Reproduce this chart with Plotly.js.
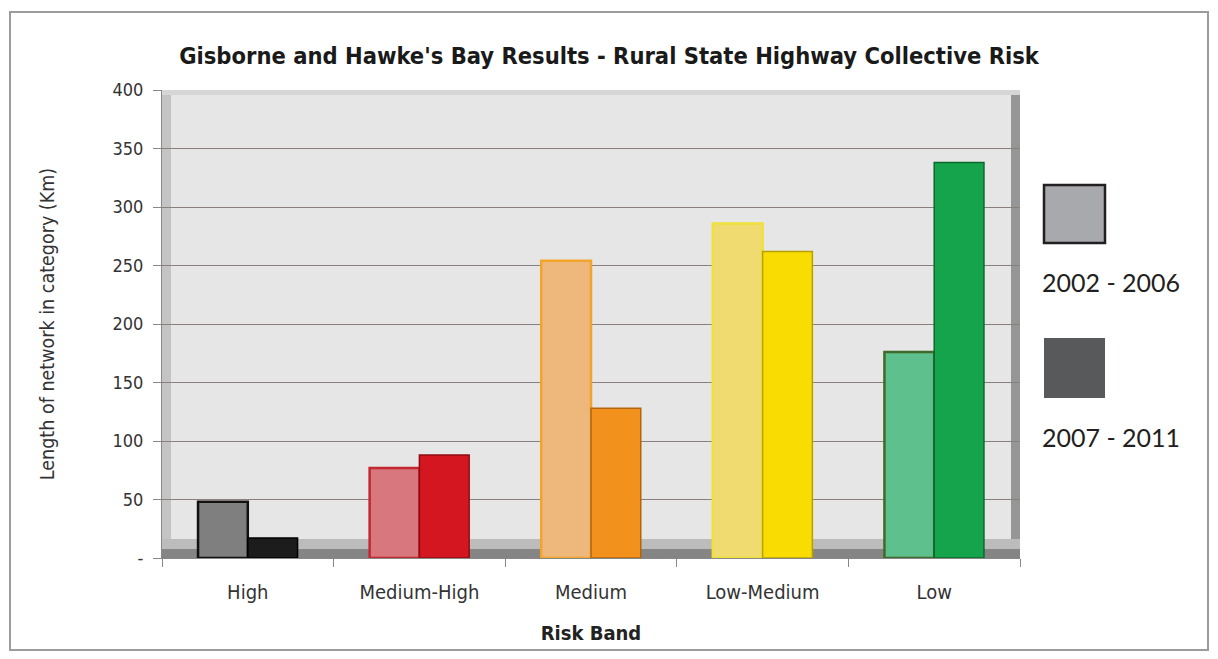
<!DOCTYPE html>
<html><head><meta charset="utf-8">
<script src="https://cdn.plot.ly/plotly-3.0.1.min.js"></script>
<style>body{margin:0;background:#fff}#chart{width:1218px;height:659px}</style>
</head><body><div id="chart"></div>
<script>
const categories = ["High", "Medium-High", "Medium", "Low-Medium", "Low"];
const seriesNames = ["2002 - 2006", "2007 - 2011"];
const values2002 = [48, 77, 254, 286, 176];
const values2007 = [17, 88, 128, 262, 338];
const yTickVals = [0, 50, 100, 150, 200, 250, 300, 350, 400];
const yTickText = ["-", "50", "100", "150", "200", "250", "300", "350", "400"];

const lightFill = ["#7f7f7f", "#d8777e", "#eeb87c", "#efdb6f", "#5ec08c"];
const lightLine = ["#111111", "#c3272f", "#f3a52b", "#f0e03a", "#3f6a2c"];
const darkFill = ["#1c1c1c", "#d3161f", "#f2921d", "#f8dc02", "#15a44c"];
const darkLine = ["#000000", "#8e0d12", "#b36410", "#b8a000", "#0a6a2c"];

const font = "'DejaVu Sans Condensed', 'Open Sans', Arial, sans-serif";

const traces = [
  {type: "bar", name: seriesNames[0], x: categories, y: values2002,
   marker: {color: lightFill, line: {color: lightLine, width: 2.5}}},
  {type: "bar", name: seriesNames[1], x: categories, y: values2007,
   marker: {color: darkFill, line: {color: darkLine, width: 1.5}}}
];

const W = 858, H = 468, L = 162, T = 90;
const px = x => (x - L) / W;
const py = y => (T + H - y) / H;

const shapes = [
  {type: "rect", xref: "paper", yref: "paper", x0: px(10), x1: px(1208), y0: py(650), y1: py(12),
   line: {color: "#9c9c9c", width: 2}, fillcolor: "rgba(0,0,0,0)", layer: "below"},
  {type: "rect", xref: "paper", yref: "paper", x0: px(162), x1: px(171), y0: py(558), y1: py(90),
   line: {width: 0}, fillcolor: "#c4c4c4", layer: "below"},
  {type: "rect", xref: "paper", yref: "paper", x0: px(1011), x1: px(1020), y0: py(558), y1: py(90),
   line: {width: 0}, fillcolor: "#969696", layer: "below"},
  {type: "rect", xref: "paper", yref: "paper", x0: px(162), x1: px(1020), y0: py(95), y1: py(90),
   line: {width: 0}, fillcolor: "#d6d6d6", layer: "below"},
  {type: "rect", xref: "paper", yref: "paper", x0: px(162), x1: px(1020), y0: py(558), y1: py(549),
   line: {width: 0}, fillcolor: "#858585", layer: "below"},
  {type: "rect", xref: "paper", yref: "paper", x0: px(162), x1: px(1020), y0: py(549), y1: py(539),
   line: {width: 0}, fillcolor: "#bcbcbc", layer: "below"},
  {type: "rect", xref: "paper", yref: "paper", x0: px(1044), x1: px(1105), y0: py(243), y1: py(185),
   line: {color: "#231f20", width: 2.5}, fillcolor: "#a7a9ac"},
  {type: "rect", xref: "paper", yref: "paper", x0: px(1044), x1: px(1105), y0: py(398), y1: py(338),
   line: {width: 0}, fillcolor: "#58595b"}
];

const legendFont = {family: "Lato, 'Noto Sans', sans-serif", size: 25, color: "#231f20"};
const annotations = [
  {xref: "paper", yref: "paper", x: px(1040), y: py(282), xanchor: "left", yanchor: "middle",
   text: seriesNames[0], showarrow: false, font: legendFont},
  {xref: "paper", yref: "paper", x: px(1040), y: py(437), xanchor: "left", yanchor: "middle",
   text: seriesNames[1], showarrow: false, font: legendFont}
];

const layout = {
  width: 1218, height: 659,
  margin: {l: L, r: 1218 - L - W, t: T, b: 659 - T - H},
  paper_bgcolor: "#ffffff",
  plot_bgcolor: "#e6e6e6",
  barmode: "group", bargap: 0.42, bargroupgap: 0,
  showlegend: false,
  title: {text: "<b>Gisborne and Hawke's Bay Results - Rural State Highway Collective Risk</b>",
          font: {family: font, size: 23.5, color: "#1a1a1a"}, x: 0.5, xanchor: "center", y: 0.915, yanchor: "middle"},
  xaxis: {
    tickfont: {family: font, size: 20, color: "#333"},
    ticks: "outside", tickson: "boundaries", ticklen: 8, tickcolor: "#888",
    ticklabelstandoff: 16,
    showline: true, linecolor: "#888", linewidth: 1,
    title: {text: "<b>Risk Band</b>", font: {family: font, size: 20, color: "#222"}, standoff: 22},
    fixedrange: true
  },
  yaxis: {
    range: [0, 400], tickvals: yTickVals, ticktext: yTickText,
    tickfont: {family: font, size: 18, color: "#333"},
    ticks: "outside", ticklen: 8, tickcolor: "#888",
    ticklabelstandoff: 6,
    showgrid: true, gridcolor: "#8a7f7f", gridwidth: 1,
    zeroline: false, showline: true, linecolor: "#888",
    title: {text: "Length of network in category (Km)", font: {family: font, size: 19.5, color: "#333"}, standoff: 52},
    fixedrange: true
  },
  shapes: shapes,
  annotations: annotations
};

Plotly.newPlot("chart", traces, layout, {displayModeBar: false, staticPlot: true});
</script>
</body></html>
